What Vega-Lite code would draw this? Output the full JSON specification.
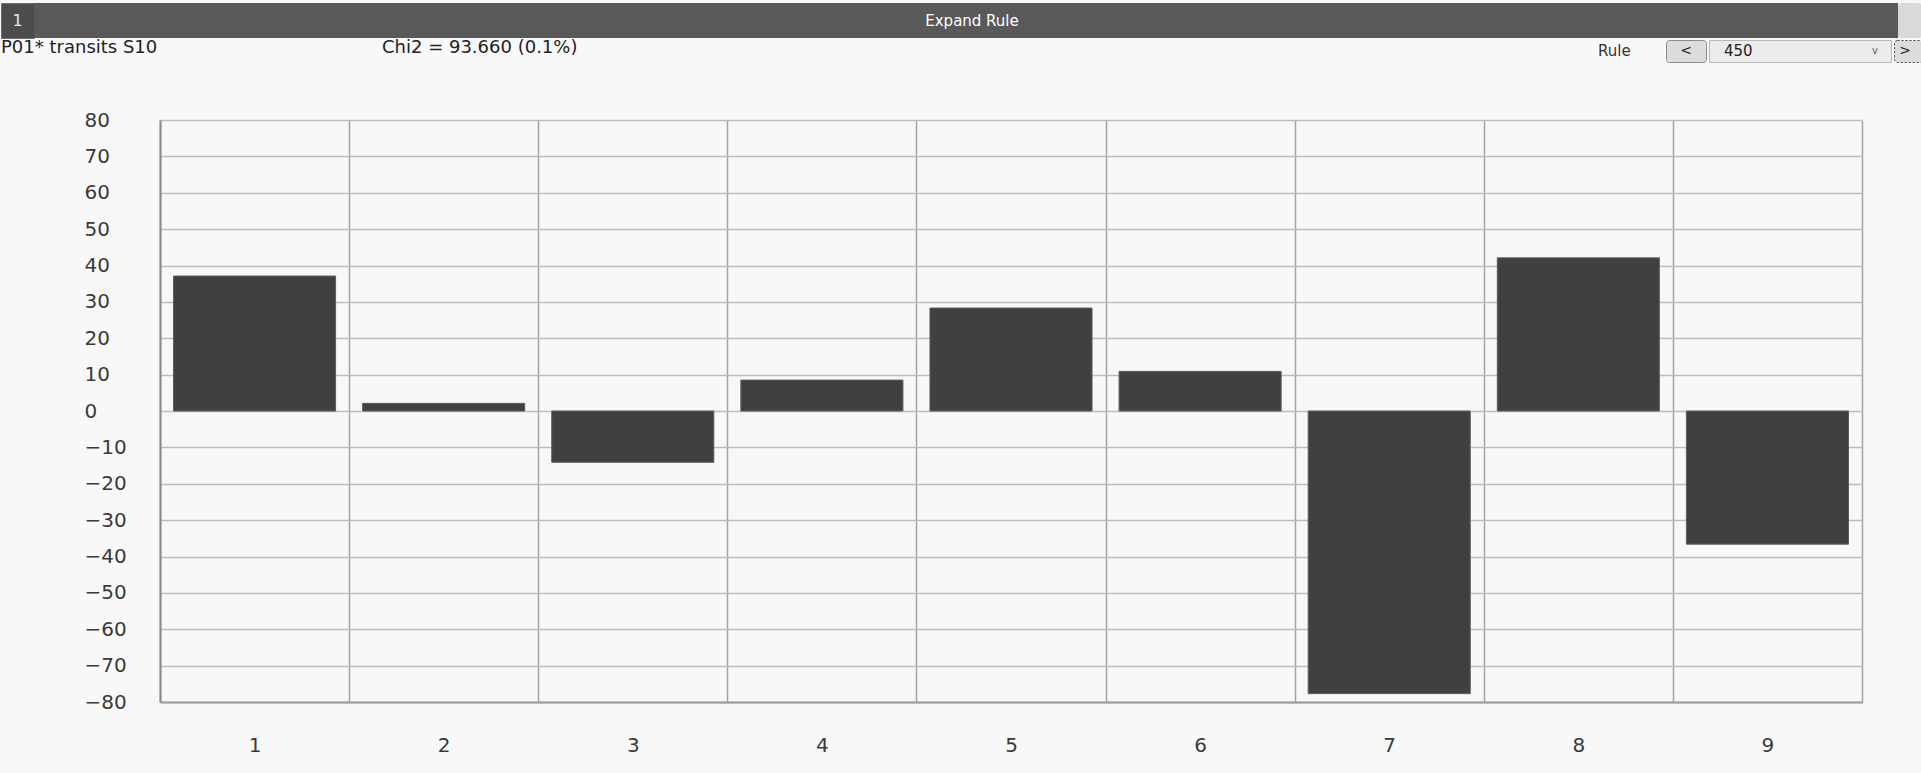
{
  "$schema": "https://vega.github.io/schema/vega-lite/v6.json",
  "background": "#f8f8f8",
  "padding": {"top": 2, "left": 0, "right": 0, "bottom": 20},
  "config": {
    "font": "DejaVu Sans",
    "view": {"stroke": null},
    "text": {"font": "DejaVu Sans"}
  },
  "spacing": 0,
  "vconcat": [
    {
      "spacing": 0,
      "bounds": "flush",
      "hconcat": [
        {
          "width": 33, "height": 35,
          "view": {"fill": "#4c4c4c", "stroke": "#707070", "strokeWidth": 1},
          "data": {"values": [{"t": "1"}]},
          "mark": {"type": "text", "color": "#e6e6e6", "fontSize": 16},
          "encoding": {"text": {"field": "t"}}
        },
        {
          "width": 1864, "height": 35,
          "view": {"fill": "#595959"},
          "data": {"values": [{"t": "Expand Rule"}]},
          "mark": {"type": "text", "color": "#ffffff", "fontSize": 15, "dx": 6},
          "encoding": {"text": {"field": "t"}}
        },
        {
          "width": 24, "height": 35,
          "view": {"fill": "#d9d9d9", "cornerRadius": 4},
          "data": {"values": []},
          "mark": {"type": "point"},
          "encoding": {}
        }
      ]
    },
    {
      "spacing": 0,
      "bounds": "flush",
      "hconcat": [
        {
          "width": 381, "height": 22,
          "data": {"values": [{"t": "P01* transits S10"}]},
          "mark": {"type": "text", "align": "left", "baseline": "middle", "dy": -3, "fontSize": 18, "color": "#222222"},
          "encoding": {"text": {"field": "t"}, "x": {"value": 0}}
        },
        {
          "width": 1216, "height": 22,
          "data": {"values": [{"t": "Chi2 = 93.660 (0.1%)"}]},
          "mark": {"type": "text", "align": "left", "baseline": "middle", "dy": -3, "fontSize": 18, "color": "#222222"},
          "encoding": {"text": {"field": "t"}, "x": {"value": 0}}
        },
        {
          "width": 68, "height": 22,
          "data": {"values": [{"t": "Rule"}]},
          "mark": {"type": "text", "align": "left", "baseline": "middle", "fontSize": 15, "color": "#333333"},
          "encoding": {"text": {"field": "t"}, "x": {"value": 0}}
        },
        {
          "width": 40, "height": 22,
          "view": {"fill": "#dcdcdc", "stroke": "#8a8a8a", "strokeWidth": 1, "cornerRadius": 3},
          "data": {"values": [{"t": "<"}]},
          "mark": {"type": "text", "baseline": "middle", "fontSize": 14, "color": "#222222"},
          "encoding": {"text": {"field": "t"}}
        },
        {
          "width": 3, "height": 22,
          "data": {"values": []},
          "mark": {"type": "point"},
          "encoding": {}
        },
        {
          "width": 182, "height": 22,
          "view": {"fill": "#ebebeb", "stroke": "#b8b8b8", "strokeWidth": 1},
          "layer": [
            {
              "data": {"values": [{"t": "450"}]},
              "mark": {"type": "text", "align": "left", "baseline": "middle", "dx": 15, "fontSize": 15, "color": "#222222"},
              "encoding": {"text": {"field": "t"}, "x": {"value": 0}}
            },
            {
              "data": {"values": [{"t": "v"}]},
              "mark": {"type": "text", "align": "center", "baseline": "middle", "dx": -16, "fontSize": 10, "color": "#666666"},
              "encoding": {"text": {"field": "t"}, "x": {"value": "width"}}
            }
          ]
        },
        {
          "width": 3, "height": 22,
          "data": {"values": []},
          "mark": {"type": "point"},
          "encoding": {}
        },
        {
          "width": 28, "height": 22,
          "view": {"fill": "#dcdcdc", "stroke": "#444444", "strokeWidth": 1, "strokeDash": [2, 2], "cornerRadius": 3},
          "data": {"values": [{"t": ">"}]},
          "mark": {"type": "text", "baseline": "middle", "fontSize": 14, "color": "#222222", "dx": -3},
          "encoding": {"text": {"field": "t"}}
        }
      ]
    },
    {
      "width": 1921, "height": 47,
      "data": {"values": []},
      "mark": {"type": "point"},
      "encoding": {}
    },
    {
      "spacing": 0,
      "bounds": "flush",
      "hconcat": [
        {
          "width": 159, "height": 582,
          "data": {"values": []},
          "mark": {"type": "point"},
          "encoding": {}
        },
        {
          "width": 1702, "height": 582,
          "data": {"values": [
            {"k": 1, "v": 37.1},
            {"k": 2, "v": 2.1},
            {"k": 3, "v": -14.1},
            {"k": 4, "v": 8.5},
            {"k": 5, "v": 28.3},
            {"k": 6, "v": 10.9},
            {"k": 7, "v": -77.7},
            {"k": 8, "v": 42.1},
            {"k": 9, "v": -36.6}
          ]},
          "mark": {"type": "bar", "color": "#404040", "stroke": "#5c5c5c", "strokeWidth": 1, "width": {"band": 0.857}},
          "encoding": {
            "x": {
              "field": "k", "type": "ordinal",
              "scale": {"paddingInner": 0, "paddingOuter": 0},
              "axis": {
                "title": null, "labelAngle": 0, "grid": true, "tickBand": "extent",
                "ticks": false, "tickSize": 0, "domain": true, "domainColor": "#9a9a9a", "domainWidth": 2,
                "gridColor": "#a3a3a3", "gridWidth": 1.5,
                "labelFontSize": 20, "labelColor": "#3a3a3a", "labelPadding": 43, "labelBaseline": "middle"
              }
            },
            "y": {
              "field": "v", "type": "quantitative",
              "scale": {"domain": [-80, 80], "nice": false, "zero": true},
              "axis": {
                "title": null,
                "values": [-80, -70, -60, -50, -40, -30, -20, -10, 0, 10, 20, 30, 40, 50, 60, 70, 80],
                "grid": true, "gridColor": "#bdbdbd", "gridWidth": 1.5,
                "ticks": false, "tickSize": 0,
                "domain": true, "domainColor": "#8a8a8a", "domainWidth": 2,
                "labelAlign": "left", "labelBaseline": "middle", "labelPadding": 76,
                "labelFontSize": 20, "labelColor": "#3a3a3a"
              }
            }
          }
        }
      ]
    }
  ]
}
